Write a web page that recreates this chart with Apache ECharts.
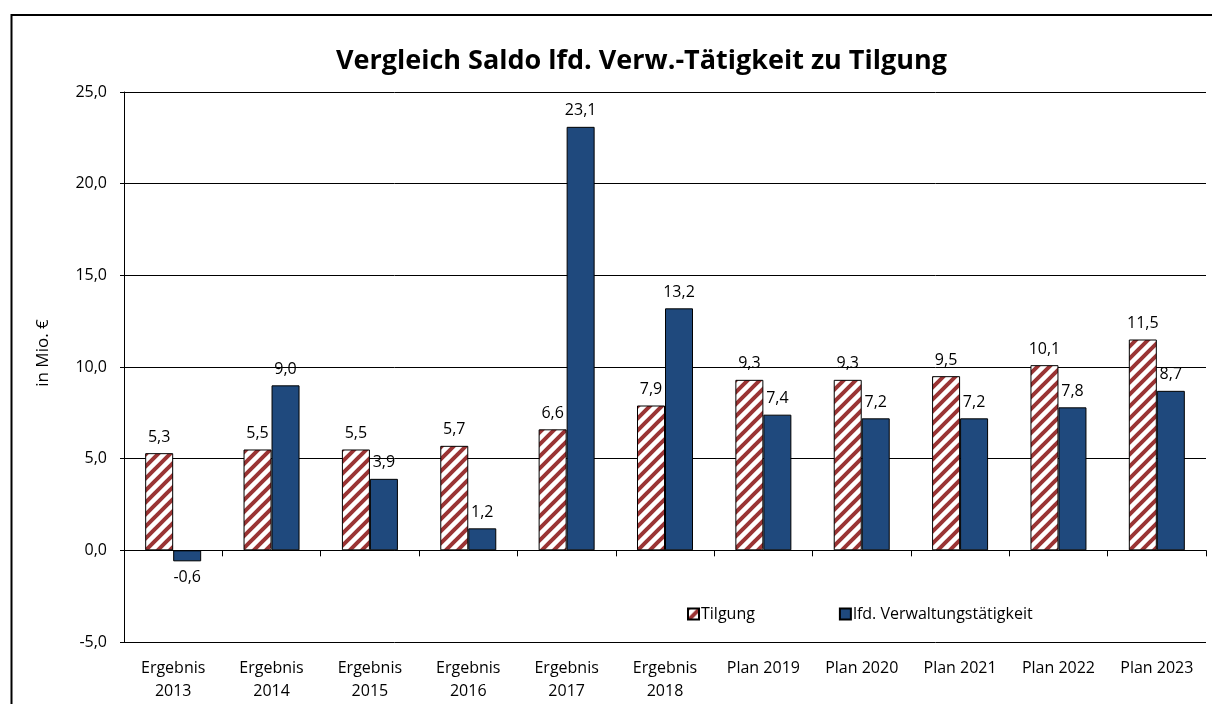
<!DOCTYPE html>
<html>
<head>
<meta charset="utf-8">
<script src="https://cdn.jsdelivr.net/npm/echarts@6/dist/echarts.min.js"></script>
<style>
  html, body { margin: 0; padding: 0; background: #fff; }
  #chart { width: 1212px; height: 704px; }
</style>
</head>
<body>
<div id="chart"></div>
<script>
// Werte aus der Grafik (in Mio. €)
var categories = ['Ergebnis\n2013', 'Ergebnis\n2014', 'Ergebnis\n2015', 'Ergebnis\n2016', 'Ergebnis\n2017',
  'Ergebnis\n2018', 'Plan 2019', 'Plan 2020', 'Plan 2021', 'Plan 2022', 'Plan 2023'];
var tilgung = [5.3, 5.5, 5.5, 5.7, 6.6, 7.9, 9.3, 9.3, 9.5, 10.1, 11.5];
var lfdVerwaltung = [-0.6, 9.0, 3.9, 1.2, 23.1, 13.2, 7.4, 7.2, 7.2, 7.8, 8.7];
var yTicks = { min: -5, max: 25, interval: 5 };

var FONT = '"Open Sans", "Noto Sans", sans-serif';

function fmt(v) {
  return Number(v).toFixed(1).replace('.', ',');
}

// Schraffur für Tilgung (weiß mit roten Diagonalen)
function hatch() {
  var c = document.createElement('canvas');
  c.width = 12; c.height = 12;
  var ctx = c.getContext('2d');
  ctx.fillStyle = '#ffffff';
  ctx.fillRect(0, 0, 12, 12);
  ctx.strokeStyle = '#9a3434';
  ctx.lineWidth = 4;
  ctx.beginPath();
  for (var k = -12; k <= 24; k += 12) {
    ctx.moveTo(k - 2, 14);
    ctx.lineTo(k + 14, -2);
  }
  ctx.stroke();
  return c;
}

function withNegLabels(arr) {
  return arr.map(function (v) {
    return v < 0 ? { value: v, label: { position: 'bottom' } } : v;
  });
}

var myChart = echarts.init(document.getElementById('chart'));
var option = {
  backgroundColor: '#fff',
  animation: false,
  title: {
    text: 'Vergleich Saldo lfd. Verw.-Tätigkeit zu Tilgung',
    left: 331,
    top: 43,
    textStyle: { fontFamily: FONT, fontSize: 27, fontWeight: 'bold', color: '#000' }
  },
  legend: {
    left: 682,
    top: 601,
    icon: 'rect',
    itemWidth: 11,
    itemHeight: 11,
    itemGap: 84,
    textStyle: { fontFamily: FONT, fontSize: 16, color: '#000', padding: [0, 0, 0, -3] },
    data: ['Tilgung', 'lfd. Verwaltungstätigkeit']
  },
  grid: { left: 124, right: 6, top: 92, bottom: 62 },
  graphic: [
    {
      type: 'rect',
      shape: { x: 11.5, y: 15, width: 1400, height: 900 },
      style: { fill: 'none', stroke: '#000', lineWidth: 2 },
      silent: true
    },
    {
      type: 'text',
      x: 43, y: 353,
      rotation: Math.PI / 2,
      style: {
        text: 'in Mio. €',
        fontFamily: FONT, fontSize: 17, fill: '#000',
        textAlign: 'center', textVerticalAlign: 'middle'
      }
    }
  ],
  xAxis: [
    {
      type: 'category',
      data: categories,
      axisLine: { onZero: true, lineStyle: { color: '#000', width: 1 } },
      axisTick: { show: true, length: 6, lineStyle: { color: '#000' } },
      axisLabel: { show: false }
    },
    {
      type: 'category',
      data: categories,
      position: 'bottom',
      axisLine: { show: false, onZero: false },
      axisTick: { show: false },
      axisLabel: {
        margin: 15,
        fontFamily: FONT, fontSize: 16, color: '#000', lineHeight: 23,
        interval: 0, align: 'center'
      }
    }
  ],
  yAxis: {
    type: 'value',
    min: yTicks.min,
    max: yTicks.max,
    interval: yTicks.interval,
    axisLine: { show: true, lineStyle: { color: '#000' } },
    axisTick: { show: true, length: 4, lineStyle: { color: '#000' } },
    axisLabel: {
      margin: 17,
      fontFamily: FONT, fontSize: 16, color: '#000',
      formatter: function (v) { return fmt(v); }
    },
    splitLine: { show: true, lineStyle: { color: '#000', width: 1 } }
  },
  series: [
    {
      name: 'Tilgung',
      type: 'bar',
      xAxisIndex: 0,
      barWidth: 28,
      barGap: '0%',
      data: withNegLabels(tilgung),
      itemStyle: { color: { image: hatch(), repeat: 'repeat' }, borderColor: '#000', borderWidth: 1 },
      label: {
        show: true, position: 'top', distance: 8,
        fontFamily: FONT, fontSize: 16, color: '#000',
        formatter: function (p) { return fmt(p.value); }
      }
    },
    {
      name: 'lfd. Verwaltungstätigkeit',
      type: 'bar',
      xAxisIndex: 0,
      barWidth: 28,
      barGap: '0%',
      data: withNegLabels(lfdVerwaltung),
      itemStyle: { color: '#1f497d', borderColor: '#000', borderWidth: 1 },
      label: {
        show: true, position: 'top', distance: 8,
        fontFamily: FONT, fontSize: 16, color: '#000',
        formatter: function (p) { return fmt(p.value); }
      }
    }
  ]
};
myChart.setOption(option);
</script>
</body>
</html>
